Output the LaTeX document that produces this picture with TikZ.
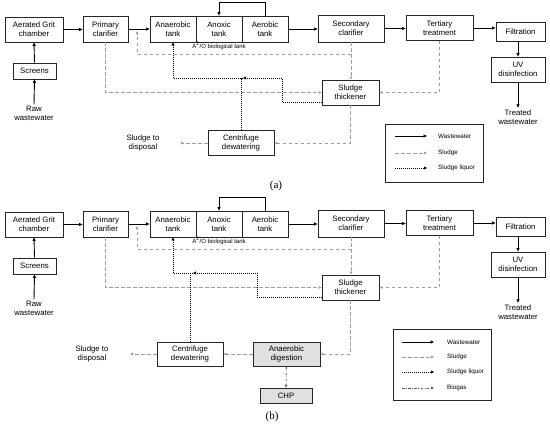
\documentclass[tikz,border=0pt]{standalone}
\usepackage{fontspec}
\setmainfont{Liberation Sans}
\newfontfamily\capfont{Liberation Serif}
\usetikzlibrary{arrows.meta}
\definecolor{sludgec}{gray}{0.62}
\definecolor{digc}{gray}{0.88}
\newcommand{\bxfont}{\fontsize{7.8}{9.3}\selectfont}
\newcommand{\legfont}{\fontsize{6.3}{7.5}\selectfont}
\newcommand{\toppanel}[1]{%
 \node[box,minimum width=58pt,minimum height=25pt] (grit#1) at (34,29.5) {Aerated Grit\\chamber};
 \node[box,minimum width=45pt,minimum height=26pt] (prim#1) at (105.5,29) {Primary\\clarifier};
 \node[box,minimum width=46pt,minimum height=26pt] (anaer#1) at (173,29) {Anaerobic\\tank};
 \node[box,minimum width=46pt,minimum height=26pt] (anox#1) at (219,29) {Anoxic\\tank};
 \node[box,minimum width=46pt,minimum height=26pt] (aer#1) at (265,29) {Aerobic\\tank};
 \node[box,minimum width=66pt,minimum height=27pt] (sec#1) at (351,28.5) {Secondary\\clarifier};
 \node[box,minimum width=67pt,minimum height=25pt] (tert#1) at (439.5,28) {Tertiary\\treatment};
 \node[box,minimum width=49pt,minimum height=19pt] (filt#1) at (520.5,31.5) {Filtration};
 \node[box,minimum width=54pt,minimum height=25pt] (uv#1) at (518,69.5) {UV\\disinfection};
 \node[txt] (tw#1) at (518,117) {Treated\\wastewater};
 \node[box,minimum width=43pt,minimum height=16pt] (scr#1) at (34.5,71) {Screens};
 \node[txt] (raw#1) at (34,113.5) {Raw\\wastewater};
 \node[font=\fontsize{6}{7}\selectfont,inner sep=0pt] (a2o#1) at (219,46) {A\textsuperscript{2}/O biological tank};
 \node[box,minimum width=57pt,minimum height=25pt] (thick#1) at (350.5,92.5) {Sludge\\thickener};
 \draw[ww] (grit#1.east) -- (grit#1.east -| prim#1.west);
 \draw[ww] (prim#1.east) -- (prim#1.east -| anaer#1.west);
 \draw[ww] (aer#1.east) -- (aer#1.east -| sec#1.west);
 \draw[ww] (sec#1.east) -- (sec#1.east -| tert#1.west);
 \draw[ww] (tert#1.east) -- (tert#1.east -| filt#1.west);
 \draw[ww] (uv#1.north |- filt#1.south) -- (uv#1.north);
 \draw[ww] (uv#1.south) -- (tw#1.north);
 \draw[ww] (raw#1.north) -- (scr#1.south);
 \draw[ww] (scr#1.north) -- (grit#1.south);
 \draw[ww] (aer#1.north) -- ++(0,-13) -| (anox#1.north);
 \coordinate (ras#1) at (137,31);
 \coordinate (sj#1) at (351,54);
 \draw[sl] (prim#1.south) |- (thick#1.west);
 \draw[sl] (sec#1.south) -- (sec#1.south |- thick#1.north);
 \draw[sl] (sj#1) -| (ras#1);
 \draw[sl] (tert#1.south) |- (thick#1.east);
}
\begin{document}
\begin{tikzpicture}[x=1pt,y=-1pt,
 box/.style={draw=black!85,line width=0.75pt,fill=white,align=center,inner sep=0pt,font=\bxfont},
 txt/.style={align=center,inner sep=1.5pt,font=\bxfont},
 ww/.style={line width=0.9pt,-{Triangle[length=3.5pt,width=3pt]}},
 sl/.style={draw=sludgec,line width=0.8pt,dash pattern=on 3.5pt off 2.5pt,-{Triangle[length=3pt,width=2.5pt]}},
 lq/.style={line width=0.8pt,dash pattern=on 1pt off 1pt},
 lqa/.style={lq,-{Triangle[length=3pt,width=3pt]}},
 bg/.style={draw=black!65,line width=0.7pt,dash pattern=on 2.5pt off 1.5pt on 0.7pt off 1.5pt,-{Triangle[length=3pt,width=2.5pt]}},
 leg/.style={font=\legfont,anchor=west,inner sep=0pt}]
\useasboundingbox (0,0) rectangle (550,426);
\fill[white] (0,0) rectangle (550,426);
% ---------- panel (a) ----------
\toppanel{a}
\node[box,minimum width=66pt,minimum height=25pt] (cena) at (241,143) {Centrifuge\\dewatering};
\node[txt] (dispta) at (143,143) {Sludge to\\disposal};
\coordinate (dispa) at (180,143);
\draw[sl] (thicka.south) |- (cena.east);
\draw[sl] (cena.west) -- (dispa);
\coordinate (jna) at (243,78);
\draw[lqa] (thicka.west |- 0,102) -| (282,78) -- (jna);
\draw[lqa] (jna) -| (anaera.south);
\draw[lq] (cena.north) -- (cena.north |- jna);
\node[draw=black!85,line width=0.75pt,minimum width=98pt,minimum height=58pt,inner sep=0pt] (lega) at (434,153) {};
\draw[ww] (395,136) -- (427,136);
\node[leg] (lwa) at (438,136) {Wastewater};
\draw[sl] (395,153) -- (427,153);
\node[leg] (lsa) at (438,153) {Sludge};
\draw[lqa] (395,168) -- (427,168);
\node[leg] (lla) at (438,168) {Sludge liquor};
\node[font=\capfont\fontsize{11}{13}\selectfont,inner sep=0pt] (capa) at (276,186) {(a)};
% ---------- panel (b) ----------
\begin{scope}[yshift=-195pt]
\toppanel{b}
\end{scope}
\node[box,minimum width=66pt,minimum height=24pt] (cenb) at (190,354) {Centrifuge\\dewatering};
\node[box,fill=digc,minimum width=67pt,minimum height=24pt] (dig) at (286.5,354) {Anaerobic\\digestion};
\node[box,fill=digc,minimum width=52pt,minimum height=15pt] (chp) at (286,395.5) {CHP};
\node[txt] (disptb) at (92,354) {Sludge to\\disposal};
\coordinate (dispb) at (130,354);
\draw[sl] (thickb.south) |- (dig.east);
\draw[sl] (dig.west) -- (cenb.east);
\draw[sl] (cenb.west) -- (dispb);
\draw[bg] (dig.south) -- (chp.north);
\coordinate (jnb) at (193,273);
\draw[lqa] (thickb.west |- 0,297) -| (257,273) -- (jnb);
\draw[lqa] (jnb) -| (anaerb.south);
\draw[lq] (cenb.north) -- (cenb.north |- jnb);
\node[draw=black!85,line width=0.75pt,minimum width=98pt,minimum height=71pt,inner sep=0pt] (legb) at (442,364.5) {};
\draw[ww] (402,342) -- (434,342);
\node[leg] (lwb) at (447,342) {Wastewater};
\draw[sl] (402,357) -- (434,357);
\node[leg] (lsb) at (447,357) {Sludge};
\draw[lqa] (402,372) -- (434,372);
\node[leg] (llb) at (447,372) {Sludge liquor};
\draw[bg] (402,388) -- (434,388);
\node[leg] (lbb) at (447,388) {Biogas};
\node[font=\capfont\fontsize{11}{13}\selectfont,inner sep=0pt] (capb) at (272,417) {(b)};
\end{tikzpicture}
\end{document}
